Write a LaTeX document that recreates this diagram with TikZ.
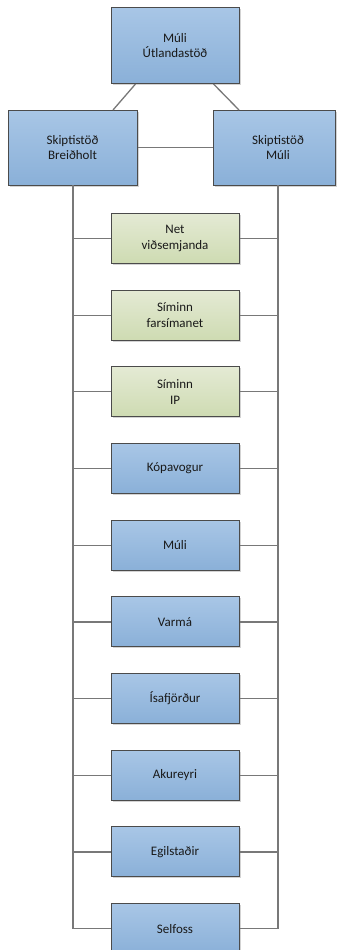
\documentclass[tikz,border=0pt]{standalone}
\usepackage{fontspec}
\setmainfont{Carlito}
\usetikzlibrary{shadows}
\definecolor{btop}{RGB}{168,198,230}
\definecolor{bbot}{RGB}{138,176,216}
\definecolor{gtop}{RGB}{228,234,212}
\definecolor{gbot}{RGB}{206,219,178}
\definecolor{bordc}{RGB}{75,75,75}
\definecolor{linec}{RGB}{120,120,120}
\definecolor{txtc}{RGB}{25,25,25}
\tikzset{
  box/.style={draw=bordc, line width=1pt, inner sep=0pt, align=center,
    text=txtc, font=\fontsize{13}{15.5}\selectfont,
    drop shadow={shadow xshift=1.5pt, shadow yshift=-1.5pt, opacity=0.35, fill=gray}},
  bluebox/.style={box, top color=btop, bottom color=bbot},
  greenbox/.style={box, top color=gtop, bottom color=gbot},
  midbox/.style={minimum width=128pt, minimum height=50pt},
  conn/.style={draw=linec, line width=1.3pt}
}
\begin{document}
\begin{tikzpicture}[x=1pt, y=-1pt]
\useasboundingbox (0,0) rectangle (338,950);
% top nodes
\node[bluebox, minimum width=128pt, minimum height=76pt] (top) at (175,45.5) {Múli\\Útlandastöð};
\node[bluebox, minimum width=129pt, minimum height=75pt] (sb) at (72.5,147.5) {Skiptistöð\\Breiðholt};
\node[bluebox, minimum width=122pt, minimum height=75pt] (sm) at (274,147.5) {\hspace*{8pt}Skiptistöð\\\hspace*{8pt}Múli};
% rail coordinates
\coordinate (lt) at (73,185);
\coordinate (rt) at (278,185);
\coordinate (lb) at (73,928.5);
\coordinate (rb) at (278,928.5);
% middle boxes
\foreach \name/\txt/\sty [count=\i from 0] in {
  net/{Net\\viðsemjanda}/greenbox,
  sfar/{Síminn\\farsímanet}/greenbox,
  sip/{Síminn\\IP}/greenbox,
  kop/{Kópavogur}/bluebox,
  mul/{Múli}/bluebox,
  var/{Varmá}/bluebox,
  isa/{Ísafjörður}/bluebox,
  aku/{Akureyri}/bluebox,
  egi/{Egilstaðir}/bluebox,
  sel/{Selfoss}/bluebox} {
  \node[\sty, midbox] (\name) at (175,{238.5+76.67*\i}) {\txt};
  \draw[conn] (73,{238.5+76.67*\i}) -- (\name.west);
  \draw[conn] (\name.east) -- (278,{238.5+76.67*\i});
}
% connectors
\draw[conn] (top.south west) ++(25,0) coordinate (ta) -- (113,110);
\draw[conn] (top.south east) ++(-26,0) coordinate (tb) -- (239,110);
\draw[conn] (sb.east) -- (sm.west);
\draw[conn] (lt) -- (lb);
\draw[conn] (rt) -- (rb);
\end{tikzpicture}
\end{document}
